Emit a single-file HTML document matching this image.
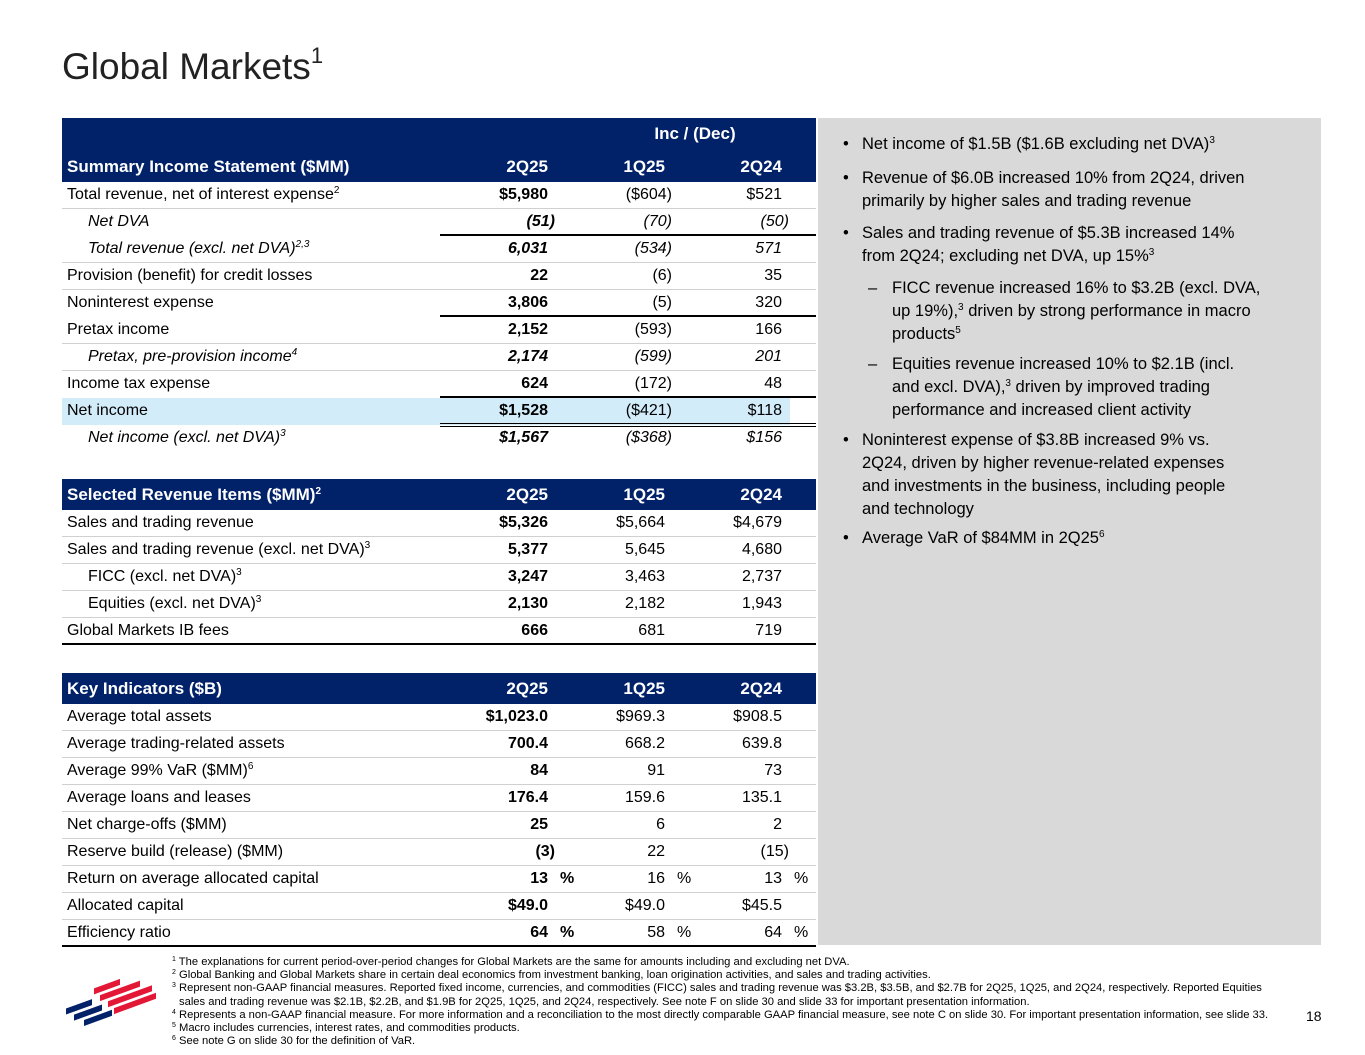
<!DOCTYPE html>
<html><head><meta charset="utf-8"><style>
body{margin:0;width:1365px;height:1055px;background:#fff;position:relative;overflow:hidden;font-family:"Liberation Sans",sans-serif;color:#000}
.a{position:absolute;white-space:nowrap}
.hdr{position:absolute;left:62px;width:754px;background:#012169;color:#fff;font-weight:bold}
.cell{position:absolute;font-size:16px;white-space:nowrap}
sup{font-size:10px;vertical-align:6px;line-height:0}
#panel{position:absolute;left:818px;top:118px;width:503px;height:827px;background:#d9d9d9;font-size:16.5px;line-height:23px}
.b{position:absolute;left:44px;width:425px}
.b .d{position:absolute;left:-19px}
.s .d{left:-24px}
#foot{position:absolute;left:172px;top:956px;font-size:11.2px;line-height:13.2px;color:#000;white-space:nowrap}
#foot sup{font-size:7px;vertical-align:4px}
</style></head><body>
<div class="a" style="left:62px;top:46px;font-size:37px;color:#222">Global Markets<sup style="font-size:22px;vertical-align:16px">1</sup></div>
<div id="tables"></div>
<div id="panel">
<div class="b" style="top:15px"><span class="d">•</span>Net income of $1.5B ($1.6B excluding net DVA)<sup>3</sup></div>
<div class="b" style="top:49px"><span class="d">•</span>Revenue of $6.0B increased 10% from 2Q24, driven primarily by higher sales and trading revenue</div>
<div class="b" style="top:104px;width:400px"><span class="d">•</span>Sales and trading revenue of $5.3B increased 14% from 2Q24; excluding net DVA, up 15%<sup>3</sup></div>
<div class="b s" style="top:159px;left:74px;width:385px"><span class="d">–</span>FICC revenue increased 16% to $3.2B (excl. DVA, up 19%),<sup>3</sup> driven by strong performance in macro products<sup>5</sup></div>
<div class="b s" style="top:235px;left:74px;width:368px"><span class="d">–</span>Equities revenue increased 10% to $2.1B (incl. and excl. DVA),<sup>3</sup> driven by improved trading performance and increased client activity</div>
<div class="b" style="top:311px;width:390px"><span class="d">•</span>Noninterest expense of $3.8B increased 9% vs. 2Q24, driven by higher revenue-related expenses and investments in the business, including people and technology</div>
<div class="b" style="top:409px"><span class="d">•</span>Average VaR of $84MM in 2Q25<sup>6</sup></div>
</div>
<svg class="a" style="left:62px;top:972px" width="100" height="64">
<g transform="skewY(-20)">
<rect x="4" y="38" width="26" height="6" fill="#012169"/><rect x="12" y="47" width="28" height="6" fill="#012169"/><rect x="22" y="56" width="28" height="6" fill="#012169"/>
<rect x="32" y="28" width="26" height="6" fill="#e31837"/><rect x="38" y="37" width="40" height="6" fill="#e31837"/><rect x="46" y="46" width="44" height="6" fill="#e31837"/><rect x="52" y="55" width="42" height="6" fill="#e31837"/>
</g></svg>
<div id="foot">
<div><sup>1</sup> The explanations for current period-over-period changes for Global Markets are the same for amounts including and excluding net DVA.</div>
<div><sup>2</sup> Global Banking and Global Markets share in certain deal economics from investment banking, loan origination activities, and sales and trading activities.</div>
<div><sup>3</sup> Represent non-GAAP financial measures. Reported fixed income, currencies, and commodities (FICC) sales and trading revenue was $3.2B, $3.5B, and $2.7B for 2Q25, 1Q25, and 2Q24, respectively. Reported Equities</div>
<div style="padding-left:7px">sales and trading revenue was $2.1B, $2.2B, and $1.9B for 2Q25, 1Q25, and 2Q24, respectively. See note F on slide 30 and slide 33 for important presentation information.</div>
<div><sup>4</sup> Represents a non-GAAP financial measure. For more information and a reconciliation to the most directly comparable GAAP financial measure, see note C on slide 30. For important presentation information, see slide 33.</div>
<div><sup>5</sup> Macro includes currencies, interest rates, and commodities products.</div>
<div><sup>6</sup> See note G on slide 30 for the definition of VaR.</div>
</div>
<div class="a" style="left:1306px;top:1008px;font-size:14px">18</div>
<script>
// label, style(n=normal,i=indented italic,p=indented plain), v2Q25, v1Q25, v2Q24, line(t=thin,k=black,d=double,n=none), pct
const sec1Rows=[
["Total revenue, net of interest expense<sup>2</sup>","n","$5,980","($604)","$521","t"],
["Net DVA","i","(51)","(70)","(50)","k"],
["Total revenue (excl. net DVA)<sup>2,3</sup>","i","6,031","(534)","571","t"],
["Provision (benefit) for credit losses","n","22","(6)","35","t"],
["Noninterest expense","n","3,806","(5)","320","k"],
["Pretax income","n","2,152","(593)","166","t"],
["Pretax, pre-provision income<sup>4</sup>","i","2,174","(599)","201","t"],
["Income tax expense","n","624","(172)","48","k"],
["Net income","h","$1,528","($421)","$118","d"],
["Net income (excl. net DVA)<sup>3</sup>","i","$1,567","($368)","$156","n"]];
const sec2Rows=[
["Sales and trading revenue","n","$5,326","$5,664","$4,679","t"],
["Sales and trading revenue (excl. net DVA)<sup>3</sup>","n","5,377","5,645","4,680","t"],
["FICC (excl. net DVA)<sup>3</sup>","p","3,247","3,463","2,737","t"],
["Equities (excl. net DVA)<sup>3</sup>","p","2,130","2,182","1,943","t"],
["Global Markets IB fees","n","666","681","719","K"]];
const sec3Rows=[
["Average total assets","n","$1,023.0","$969.3","$908.5","t"],
["Average trading-related assets","n","700.4","668.2","639.8","t"],
["Average 99% VaR ($MM)<sup>6</sup>","n","84","91","73","t"],
["Average loans and leases","n","176.4","159.6","135.1","t"],
["Net charge-offs ($MM)","n","25","6","2","t"],
["Reserve build (release) ($MM)","n","(3)","22","(15)","t"],
["Return on average allocated capital","n","13","16","13","t",1],
["Allocated capital","n","$49.0","$49.0","$45.5","t"],
["Efficiency ratio","n","64","58","64","K",1]];
const sections=[
{title:"Summary Income Statement ($MM)",hTop:118,hH:64,rows:sec1Rows,name:"summary-income-statement"},
{title:"Selected Revenue Items ($MM)<sup>2</sup>",hTop:479,hH:31,rows:sec2Rows,name:"selected-revenue-items"},
{title:"Key Indicators ($B)",hTop:673,hH:31,rows:sec3Rows,name:"key-indicators"}];
const colRight=[548,665,782];
const root=document.getElementById('tables');
function mk(cls,style,html){const e=document.createElement('div');e.className=cls;e.style.cssText=style;e.innerHTML=html;root.appendChild(e);return e;}
sections.forEach(s=>{
 const h=mk('hdr',`top:${s.hTop}px;height:${s.hH}px`,'');
 
 
 if(s.hH>40){const g=mk('cell',`left:600px;top:${s.hTop+6}px;width:190px;text-align:center;color:#fff;font-weight:bold;font-size:17px`,'Inc / (Dec)');
  
  }
 const ty=s.hTop+s.hH-25;
 const t=mk('cell',`left:67px;top:${ty}px;color:#fff;font-weight:bold;font-size:17px`,s.title);
 
 
 ["2Q25","1Q25","2Q24"].forEach((c,i)=>{const e=mk('cell',`left:${colRight[i]-100}px;width:100px;text-align:right;top:${ty}px;color:#fff;font-weight:bold;font-size:17px`,c);
  
  });
 let y=s.hTop+s.hH;
 s.rows.forEach(r=>{
  if(r[1]==='h'){const hl=mk('cell',`left:62px;top:${y}px;width:728px;height:27px;background:#d3ecfa`,'');
   
   }
  const it=r[1]==='i';
  const lx=(r[1]==='i'||r[1]==='p')?88:67;
  const l=mk('cell',`left:${lx}px;top:${y+4}px;${it?'font-style:italic;':''}`,r[0]);
  
  
  for(let i=0;i<3;i++){
   const v=r[2+i];const shift=v.endsWith(')')?7:0;
   const e=mk('cell',`left:${colRight[i]+shift-120}px;width:120px;text-align:right;top:${y+4}px;${i===0?'font-weight:bold;':''}${it?'font-style:italic;':''}`,v);
   
   
   if(r[6]){const p=mk('cell',`left:${colRight[i]+12}px;top:${y+4}px;${i===0?'font-weight:bold;':''}`,'%');
    
    }
  }
  const ln=r[5];y+=27;
  if(ln==='t'){mk('cell',`left:62px;top:${y-1}px;width:754px;height:1px;background:#d0d0d0`,'');}
  else if(ln==='k'){mk('cell',`left:440px;top:${y-2}px;width:376px;height:2px;background:#000`,'');}
  else if(ln==='K'){mk('cell',`left:62px;top:${y-2}px;width:754px;height:2px;background:#000`,'');}
  else if(ln==='d'){mk('cell',`left:440px;top:${y-2}px;width:376px;height:1px;background:#000`,'');mk('cell',`left:440px;top:${y+1}px;width:376px;height:1px;background:#000`,'');}
 });
});
</script>
</body></html>
